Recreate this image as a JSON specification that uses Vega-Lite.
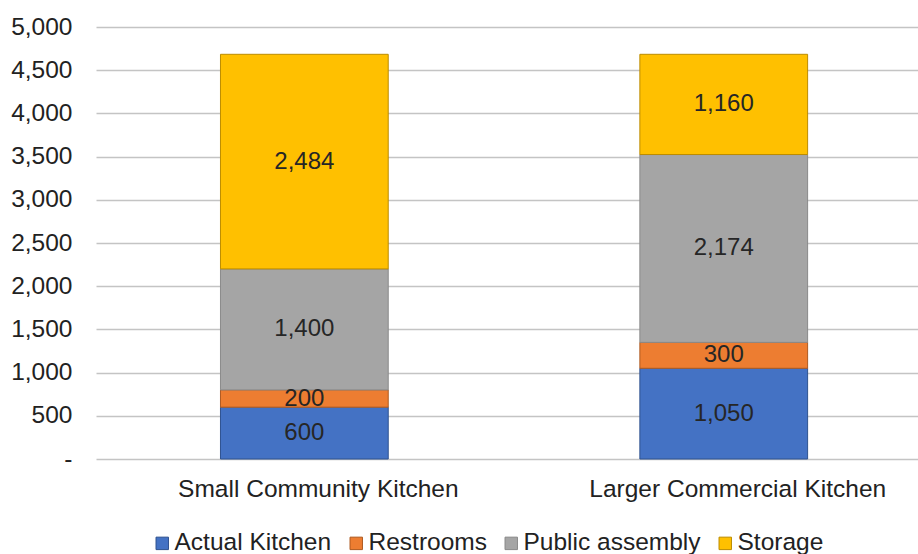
{
  "$schema": "https://vega.github.io/schema/vega-lite/v6.json",
  "width": 822,
  "height": 432,
  "autosize": "none",
  "padding": {"left": 96, "top": 27, "right": 0, "bottom": 95},
  "background": "white",
  "config": {"font": "Liberation Sans", "view": {"stroke": null}},
  "data": {"values": [
    {"kitchen": "Small Community Kitchen", "use": "Actual Kitchen", "k": 1, "sqft": 600},
    {"kitchen": "Small Community Kitchen", "use": "Restrooms", "k": 2, "sqft": 200},
    {"kitchen": "Small Community Kitchen", "use": "Public assembly", "k": 3, "sqft": 1400},
    {"kitchen": "Small Community Kitchen", "use": "Storage", "k": 4, "sqft": 2484},
    {"kitchen": "Larger Commercial Kitchen", "use": "Actual Kitchen", "k": 1, "sqft": 1050},
    {"kitchen": "Larger Commercial Kitchen", "use": "Restrooms", "k": 2, "sqft": 300},
    {"kitchen": "Larger Commercial Kitchen", "use": "Public assembly", "k": 3, "sqft": 2174},
    {"kitchen": "Larger Commercial Kitchen", "use": "Storage", "k": 4, "sqft": 1160}
  ]},
  "transform": [
    {"stack": "sqft", "groupby": ["kitchen"], "sort": [{"field": "k", "order": "ascending"}], "as": ["v0", "v1"]},
    {"calculate": "(datum.v0 + datum.v1) / 2", "as": "mid"}
  ],
  "encoding": {
    "x": {
      "field": "kitchen", "type": "nominal", "sort": null,
      "scale": {"paddingInner": 0.6, "paddingOuter": 0.28, "align": 0.53},
      "axis": {"title": null, "labelAngle": 0, "labelFontSize": 24.5, "labelLimit": 0, "labelColor": "#222222", "domain": false, "ticks": false, "labelPadding": 18, "labelOffset": 14}
    }
  },
  "layer": [
    {
      "mark": {"type": "bar", "strokeWidth": 1},
      "encoding": {
        "y": {
          "field": "v1", "type": "quantitative",
          "scale": {"domain": [0, 5000], "nice": false},
          "axis": {"title": null, "values": [0,500,1000,1500,2000,2500,3000,3500,4000,4500,5000],
            "labelExpr": "datum.value == 0 ? '-' : format(datum.value, ',')", "labelOverlap": false,
            "domain": false, "ticks": false, "labelPadding": 24, "labelFontSize": 24.5, "labelColor": "#222222",
            "gridColor": "#c4c4c4", "gridWidth": 1.5}
        },
        "y2": {"field": "v0"},
        "color": {
          "field": "use", "type": "nominal",
          "scale": {"domain": ["Actual Kitchen", "Restrooms", "Public assembly", "Storage"], "range": ["#4472C4", "#ED7D31", "#A5A5A5", "#FFC000"]},
          "legend": {"title": null, "orient": "none", "direction": "horizontal", "legendX": 54, "legendY": 504,
            "symbolType": "square", "symbolSize": 155, "labelFontSize": 24.5, "labelColor": "#222222", "labelLimit": 0,
            "columnPadding": 12, "labelOffset": 0, "symbolStrokeWidth": 1}
        },
        "stroke": {
          "field": "use", "type": "nominal",
          "scale": {"domain": ["Actual Kitchen", "Restrooms", "Public assembly", "Storage"], "range": ["#2F528F", "#AE5A21", "#8a8a8a", "#BC8C00"]},
          "legend": null
        }
      }
    },
    {
      "mark": {"type": "text", "fontSize": 24, "color": "#262626", "baseline": "middle"},
      "encoding": {
        "y": {"field": "mid", "type": "quantitative"},
        "text": {"field": "sqft", "type": "quantitative", "format": ","}
      }
    }
  ]
}
